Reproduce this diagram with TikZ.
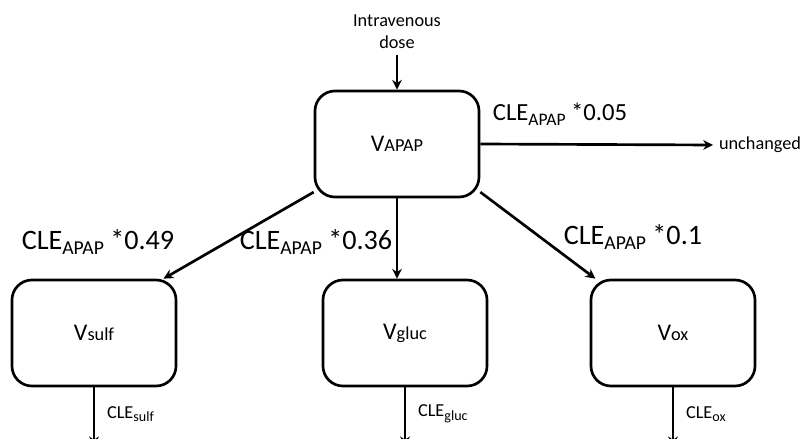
\documentclass[tikz,border=0pt]{standalone}
\usepackage{fontspec}
\setmainfont{Carlito}
\usetikzlibrary{arrows.meta}

\newcommand{\vol}[1]{V{\fontsize{13}{15}\selectfont #1}}
\newcommand{\lowsub}[2]{\raisebox{-0.4ex}{\fontsize{#1}{#1}\selectfont #2}}

\begin{document}
\begin{tikzpicture}[x=0.025cm,y=-0.025cm,>={Stealth[length=7pt,width=7pt]},line width=1.9pt]
    \tikzstyle{comp}=[draw=black,rounded corners=0.5cm,minimum width=4.1cm,minimum height=2.65cm,inner sep=0pt,font=\fontsize{17}{20}\selectfont]
    \tikzstyle{rate}=[inner sep=0pt,font=\fontsize{20}{24}\selectfont]
    \tikzstyle{small}=[font=\fontsize{13}{15.5}\selectfont]
    \useasboundingbox (0,0) rectangle (802,439);

    \node[comp] (V-APAP) at (397,144) {\vol{APAP}};
    \foreach \name/\x in {sulf/94, gluc/405, ox/673}
        \node[comp] (V-\name) at (\x,333) {\vol{\name}};

    \node[small,align=center] (dose) at (397,32) {Intravenous\\dose};
    \node[small,anchor=west] (unchanged) at (713,145) {unchanged};

    \node[rate,font=\fontsize{17.5}{21}\selectfont] (k-unch) at (560,114) {CLE\lowsub{12.5}{APAP} *0.05};
    \node[rate] (k-sulf) at (98,242) {CLE\lowsub{14}{APAP} *0.49};
    \node[rate] (k-gluc) at (316,242) {CLE\lowsub{14}{APAP} *0.36};
    \node[rate] (k-ox) at (633,237) {CLE\lowsub{14}{APAP} *0.1};

    \draw[->] (dose.south) -- (V-APAP.north);
    \draw[->] (V-APAP.east) -- (unchanged.west);
    \draw[->] (V-APAP.210) -- (V-sulf.38);
    \draw[->] (V-APAP.south) -- (V-APAP.south |- V-gluc.north);
    \draw[->] (V-APAP.-30) -- (V-ox.145);

    % outflow of the metabolites
    \foreach \name in {sulf, gluc, ox}
        \draw[->] (V-\name.south) -- ++(0,59)
            node[small,pos=0.45,right=5pt] (c-\name) {CLE\lowsub{10}{\name}};
\end{tikzpicture}
\end{document}
